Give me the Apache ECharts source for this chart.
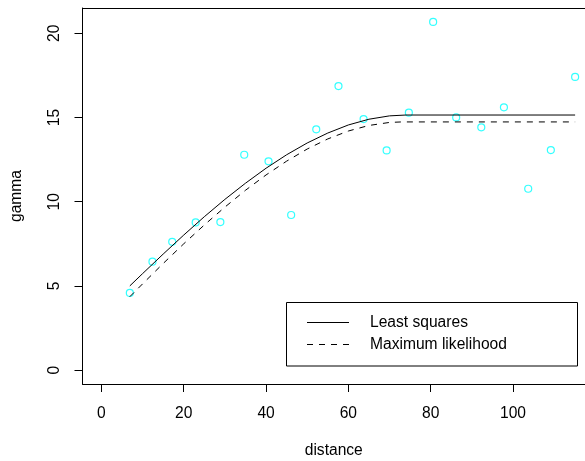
<!DOCTYPE html>
<html>
<head>
<meta charset="utf-8">
<script src="https://cdn.jsdelivr.net/npm/echarts@6/dist/echarts.min.js"></script>
<style>
  html, body { margin: 0; padding: 0; background: #fff; }
  #chart { width: 585px; height: 461px; }
</style>
</head>
<body>
<div id="chart"></div>
<script>
// Empirical semivariogram: lag distance vs. semivariance
const distance = [6.9, 12.4, 17.2, 22.9, 28.9, 34.7, 40.6, 46.1, 52.2, 57.6,
                  63.7, 69.3, 74.7, 80.6, 86.2, 92.3, 97.8, 103.7, 109.2, 115.1];
const gamma = [4.58, 6.44, 7.62, 8.77, 8.79, 12.79, 12.40, 9.21, 14.30, 16.87,
               14.91, 13.05, 15.29, 20.68, 15.01, 14.42, 15.61, 10.77, 13.07, 17.41];

// Fitted spherical models, sampled along the lag axis
const lsDist = [6.9, 10, 15, 20, 25, 30, 35, 40, 45, 50, 55, 60, 65, 70, 74, 115.1];
const lsGamma = [5.00, 5.73, 6.89, 8.02, 9.11, 10.14, 11.10, 11.99, 12.79, 13.49,
                 14.08, 14.56, 14.90, 15.10, 15.15, 15.15];
const mlDist = [6.9, 10, 15, 20, 25, 30, 35, 40, 45, 50, 55, 60, 65, 70, 73, 115.1];
const mlGamma = [4.36, 5.12, 6.33, 7.50, 8.62, 9.68, 10.68, 11.59, 12.41, 13.13,
                 13.73, 14.20, 14.53, 14.71, 14.74, 14.74];

const xTicks = [0, 20, 40, 60, 80, 100];
const yTicks = [0, 5, 10, 15, 20];
const legendLabels = ['Least squares', 'Maximum likelihood'];

const FONT = '"Liberation Sans", Arial, Helvetica, sans-serif';
const FS = 15.6;
const X_MIN = -4.6, X_MAX = 117.5;
const Y_MIN = -0.827, Y_MAX = 21.507;

const pairs = (xs, ys) => xs.map((x, i) => [x, ys[i]]);
const frameLine = () => ({ show: true, onZero: false, lineStyle: { color: '#000', width: 1 } });

const chart = echarts.init(document.getElementById('chart'), null, { renderer: 'canvas' });

chart.setOption({
  animation: false,
  backgroundColor: '#fff',
  grid: { show: false, left: 82.5, top: 8, right: 0, bottom: 77, outerBoundsMode: 'none', containLabel: false },
  xAxis: [
    {
      type: 'value',
      position: 'bottom',
      min: X_MIN, max: X_MAX,
      name: 'distance',
      nameLocation: 'middle',
      nameGap: 59,
      nameTextStyle: { fontFamily: FONT, fontSize: FS, color: '#000' },
      axisLine: frameLine(),
      splitLine: { show: false },
      axisTick: { show: true, inside: false, length: 8, customValues: xTicks,
                  lineStyle: { color: '#000', width: 1 } },
      axisLabel: { customValues: xTicks, margin: 22, fontFamily: FONT, fontSize: FS, color: '#000' }
    },
    {
      // top edge of the plot frame
      type: 'value',
      position: 'top',
      min: X_MIN, max: X_MAX,
      axisLine: frameLine(),
      axisTick: { show: false },
      axisLabel: { show: false },
      splitLine: { show: false }
    }
  ],
  yAxis: {
    type: 'value',
    position: 'left',
    min: Y_MIN, max: Y_MAX,
    name: 'gamma',
    nameLocation: 'middle',
    nameRotate: 90,
    nameGap: 58,
    nameTextStyle: { fontFamily: FONT, fontSize: FS, color: '#000' },
    axisLine: frameLine(),
    splitLine: { show: false },
    axisTick: { show: true, inside: false, length: 8, customValues: yTicks,
                lineStyle: { color: '#000', width: 1 } },
    axisLabel: { customValues: yTicks, rotate: 90, margin: 20, fontFamily: FONT, fontSize: FS, color: '#000' }
  },
  series: [
    {
      name: 'semivariance',
      type: 'scatter',
      data: pairs(distance, gamma),
      symbol: 'circle',
      symbolSize: 7,
      itemStyle: { color: 'transparent', borderColor: '#00ffff', borderWidth: 1.2 },
      z: 2
    },
    {
      name: legendLabels[0],
      type: 'line',
      data: pairs(lsDist, lsGamma),
      showSymbol: false,
      smooth: false,
      lineStyle: { color: '#000', width: 1 },
      z: 3
    },
    {
      name: legendLabels[1],
      type: 'line',
      data: pairs(mlDist, mlGamma),
      showSymbol: false,
      smooth: false,
      lineStyle: { color: '#000', width: 1, type: [6, 6] },
      z: 3
    }
  ],
  graphic: [
    { type: 'rect', shape: { x: 286.5, y: 302.5, width: 291, height: 63.5 },
      style: { fill: '#fff', stroke: '#000', lineWidth: 1 }, z: 10 },
    { type: 'line', shape: { x1: 307, y1: 322.5, x2: 349, y2: 322.5 },
      style: { stroke: '#000', lineWidth: 1 }, z: 11 },
    { type: 'line', shape: { x1: 307, y1: 344.5, x2: 349, y2: 344.5 },
      style: { stroke: '#000', lineWidth: 1, lineDash: [6, 6] }, z: 11 },
    { type: 'text', x: 370, y: 323, z: 11,
      style: { text: legendLabels[0], font: FS + 'px ' + FONT, fill: '#000', verticalAlign: 'middle', align: 'left' } },
    { type: 'text', x: 370, y: 344.5, z: 11,
      style: { text: legendLabels[1], font: FS + 'px ' + FONT, fill: '#000', verticalAlign: 'middle', align: 'left' } }
  ]
});
</script>
</body>
</html>
